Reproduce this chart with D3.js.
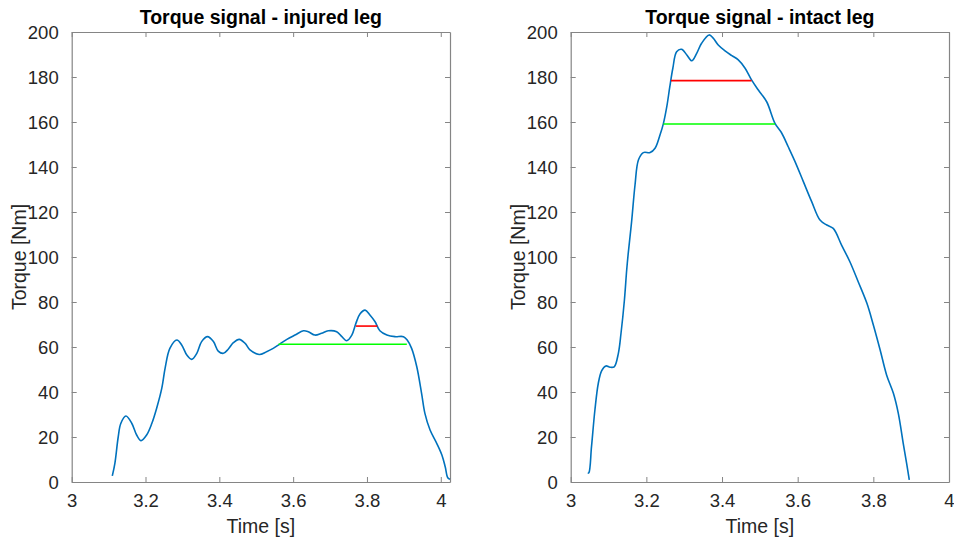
<!DOCTYPE html>
<html>
<head>
<meta charset="utf-8">
<script src="https://cdn.jsdelivr.net/npm/d3@7"></script>
<style>
  html, body { margin: 0; padding: 0; background: #fff; }
  svg { display: block; }
  text { font-family: "Liberation Sans", Arial, Helvetica, sans-serif; fill: #262626; }
</style>
</head>
<body>
<svg id="chart" width="954" height="541"></svg>
<script>
// ---------- Data ----------
const xTicks = [3, 3.2, 3.4, 3.6, 3.8, 4];
const yTicks = [0, 20, 40, 60, 80, 100, 120, 140, 160, 180, 200];

const injuredTime = [3.110,3.117,3.126,3.133,3.147,3.163,3.176,3.188,3.203,3.217,3.230,3.244,3.253,3.266,3.285,3.298,3.312,3.325,3.339,3.352,3.368,3.384,3.397,3.411,3.424,3.438,3.454,3.470,3.483,3.508,3.528,3.546,3.563,3.583,3.605,3.628,3.641,3.659,3.677,3.695,3.718,3.732,3.745,3.759,3.770,3.781,3.795,3.808,3.822,3.835,3.854,3.876,3.899,3.909,3.921,3.935,3.948,3.957,3.971,3.989,4.003,4.012,4.019,4.025];
const injuredTorque = [2.7,8.3,20,26,29.3,26,20.9,18.4,20.9,26,32.7,41.6,50.5,59.4,63.1,60.9,56.4,54.5,57.2,62.4,64.6,62.4,58.2,57.2,59,61.9,63.4,61.6,58.7,56.7,57.9,59.4,61.2,63.4,65.3,67.2,66.8,65.3,66.1,67.2,66.8,64.6,62.8,65.3,70.5,74.7,76.4,74.2,71.2,67.2,65.3,64.6,64.6,63.1,59.4,51.2,39.4,30.5,23.1,17.2,12,6.8,1.9,1.2];

const intactTime = [3.045,3.048,3.055,3.064,3.073,3.082,3.093,3.104,3.115,3.126,3.133,3.142,3.148,3.152,3.161,3.170,3.179,3.192,3.210,3.223,3.236,3.245,3.254,3.262,3.270,3.280,3.293,3.307,3.320,3.333,3.346,3.366,3.377,3.390,3.408,3.426,3.443,3.461,3.478,3.496,3.518,3.540,3.558,3.575,3.593,3.615,3.637,3.659,3.677,3.694,3.716,3.738,3.760,3.783,3.800,3.818,3.835,3.853,3.866,3.879,3.888,3.895];
const intactTorque = [3.9,4.1,15.7,32,43.9,49.5,51.6,51,51.2,57.2,66.1,80.9,94.2,101.5,115.7,132,143.1,146.4,146.4,148.3,154.2,159.3,166.8,175.7,183.9,191.2,192.3,189.8,187.2,190.5,195,198.7,197.2,194.2,191.6,189.5,187.6,183.9,178.7,174.2,169,159.4,155,149,142.4,133.5,124.6,116.4,114.2,112.7,105.3,97.9,89,79.4,69.8,58.7,47.6,39.4,30.5,17.2,8.3,0.9];

// threshold lines: [tStart, tEnd, level]
const injuredRed = [3.770, 3.828, 69.3];
const injuredGreen = [3.560, 3.908, 61.2];
const intactRed = [3.265, 3.478, 178.4];
const intactGreen = [3.245, 3.540, 159.1];

const panels = [
  { title: "Torque signal - injured leg", time: injuredTime, torque: injuredTorque,
    red: injuredRed, green: injuredGreen, xMax: 4.025, left: 71.7, ylabX: 26 },
  { title: "Torque signal - intact leg", time: intactTime, torque: intactTorque,
    red: intactRed, green: intactGreen, xMax: 4, left: 570.7, ylabX: 525 }
];

// ---------- Drawing ----------
const svg = d3.select("#chart");
const W = 378.3, plotTop = 32, plotBottom = 482, H = plotBottom - plotTop;
const axisColor = "#858585";
const tickLen = 5;

panels.forEach(p => {
  const g = svg.append("g").attr("transform", `translate(${p.left},${plotTop})`);
  const x = d3.scaleLinear().domain([3, p.xMax]).range([0, W]);
  const y = d3.scaleLinear().domain([0, 200]).range([H, 0]);

  const fmt = d => d3.format("~g")(+d.toFixed(1));

  const xb = g.append("g").attr("transform", `translate(0,${H})`)
    .call(d3.axisBottom(x).tickValues(xTicks).tickFormat(fmt).tickSizeInner(-tickLen).tickSizeOuter(0).tickPadding(14));
  const xt = g.append("g")
    .call(d3.axisTop(x).tickValues(xTicks).tickFormat("").tickSizeInner(-tickLen).tickSizeOuter(0));
  const yl = g.append("g")
    .call(d3.axisLeft(y).tickValues(yTicks).tickFormat(fmt).tickSizeInner(-tickLen).tickSizeOuter(0).tickPadding(13));
  const yr = g.append("g").attr("transform", `translate(${W},0)`)
    .call(d3.axisRight(y).tickValues(yTicks).tickFormat("").tickSizeInner(-tickLen).tickSizeOuter(0));

  [xb, xt, yl, yr].forEach(a => {
    a.select(".domain").attr("stroke", axisColor).attr("stroke-width", 1.2);
    a.selectAll(".tick line").attr("stroke", axisColor).attr("stroke-width", 1);
    a.selectAll(".tick text").attr("fill", "#262626").style("font-size", "18.5px")
      .style("font-family", '"Liberation Sans", Arial, sans-serif');
  });
  xb.selectAll(".tick text").attr("dy", null).attr("y", 25);
  yl.selectAll(".tick text").attr("dy", "0.36em");

  const pts = p.time.map((t, i) => [t, p.torque[i]]);
  const line = d3.line().x(d => x(d[0])).y(d => y(d[1])).curve(d3.curveCatmullRom.alpha(0.5));

  const clipId = "clip" + Math.round(p.left);
  g.append("clipPath").attr("id", clipId).append("rect")
    .attr("x", 0).attr("y", -2).attr("width", W + 1).attr("height", H + 2);

  g.append("path").datum(pts).attr("d", line)
    .attr("fill", "none").attr("stroke", "#0072BD").attr("stroke-width", 1.6)
    .attr("stroke-linejoin", "round").attr("clip-path", `url(#${clipId})`);

  [[p.green, "#00FF00"], [p.red, "#FF0000"]].forEach(([th, col]) => {
    g.append("line")
      .attr("x1", x(th[0])).attr("x2", x(th[1]))
      .attr("y1", y(th[2])).attr("y2", y(th[2]))
      .attr("stroke", col).attr("stroke-width", 1.6);
  });

  svg.append("text").attr("x", p.left + W / 2).attr("y", 24)
    .attr("text-anchor", "middle").style("font-size", "19.5px").style("font-weight", "bold")
    .style("fill", "#000").text(p.title);

  svg.append("text").attr("x", p.left + W / 2).attr("y", 533)
    .attr("text-anchor", "middle").style("font-size", "19.5px").text("Time [s]");

  svg.append("text").attr("transform", `translate(${p.ylabX},${plotTop + H / 2}) rotate(-90)`)
    .attr("text-anchor", "middle").style("font-size", "19.5px").text("Torque [Nm]");
});
</script>
</body>
</html>
